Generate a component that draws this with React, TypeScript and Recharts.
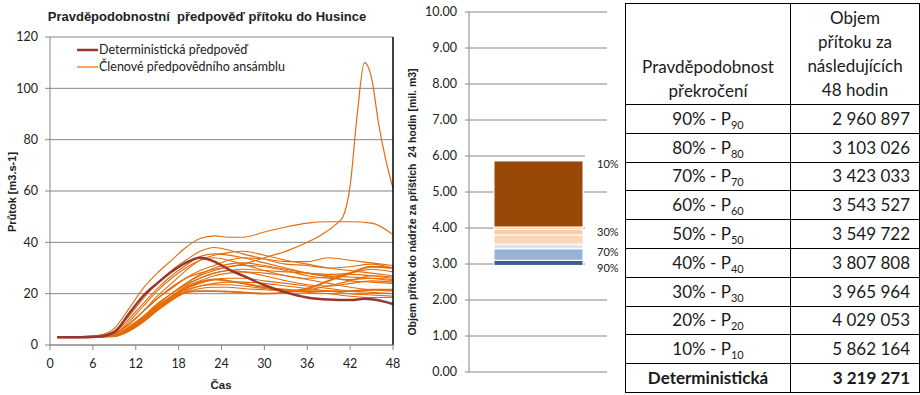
import {
  Bar,
  BarChart,
  CartesianGrid,
  LabelList,
  Legend,
  Line,
  LineChart,
  ReferenceLine,
  XAxis,
  YAxis,
} from 'recharts'

const GRID = '#868686'
const TEXT = '#222'
const ENSEMBLE_COLOR = '#E46C0A'
const DET_COLOR = '#953735'

// --- line chart data -------------------------------------------------------

const HOURS = [1, 4, 7, 9, 11, 13, 15, 17, 19, 21, 23, 25, 27, 30, 33, 36, 39, 42, 45, 48]

const ENSEMBLE: number[][] = [
  [3, 3.2, 3.9, 6.5, 14, 22, 28, 33, 38, 41.5, 42.5, 42, 42, 44, 46, 47.5, 48, 48, 47.5, 43],
  [3, 3.2, 3.8, 5.5, 11, 18, 24, 29, 33, 36.5, 38, 37, 35.5, 33.5, 31.5, 31, 30, 30.5, 31.5, 30],
  [3, 3.1, 3.6, 5, 10, 16, 22, 27, 31, 34.5, 35.5, 35, 34, 32, 30, 28, 26.5, 25, 24.5, 24],
  [3, 3.1, 3.5, 4.5, 8, 13, 19, 24, 29, 33, 35, 36, 36.5, 35, 33, 31.5, 30, 29, 28, 27],
  [3, 3.1, 3.5, 4.5, 8, 13, 18, 22, 26, 29, 31, 33, 34, 33.5, 32.5, 32.5, 34, 33, 32, 31],
  [3, 3.1, 3.4, 4, 7, 11, 16, 20, 24, 27, 29, 30.5, 31, 30.5, 29, 27, 26, 25.5, 26, 25.5],
  [3, 3.1, 3.4, 4, 7, 11, 16, 20, 23.5, 26, 28, 29, 29.5, 29, 28.5, 28, 27.5, 28, 29.5, 28.5],
  [3, 3.1, 3.3, 3.8, 6.5, 10.5, 15, 19, 22.5, 25, 27, 28, 28.5, 28, 27, 25.5, 24, 22.5, 21.5, 21],
  [3, 3.1, 3.3, 3.8, 6, 10, 14, 18.5, 22, 24, 25.5, 26, 26, 25, 24, 23, 22, 21, 20.5, 20],
  [3, 3.1, 3.3, 3.6, 6, 9.5, 14, 18, 21, 23, 24, 24.5, 24.5, 24, 23, 22, 21, 20, 19.5, 19],
  [3, 3, 3.2, 3.5, 5.5, 9, 13.5, 17.5, 20.5, 22, 22.5, 22.5, 22, 21.5, 21, 20.5, 20, 19, 18.5, 18.5],
  [3, 3, 3.2, 3.5, 5.5, 9, 13.5, 17.5, 20.5, 21, 21, 20.8, 20.5, 20, 20.5, 22, 25, 28, 30.5, 30],
  [3, 3, 3.2, 3.5, 6, 10, 15, 19, 23, 26, 28, 29, 28.5, 27, 25, 23.5, 23, 24, 25, 24.5],
  [3, 3, 3.2, 3.5, 5.5, 9.5, 14.5, 18.5, 22, 24.5, 25.5, 25, 24, 22.5, 21.5, 21, 21, 21, 21.5, 21.5],
  [3, 3.1, 3.5, 4.5, 9, 15, 21, 26, 30, 33, 34, 33, 31.5, 29, 27, 26, 26.5, 27.5, 27, 26],
  [3, 3, 3.2, 3.6, 6.5, 10.5, 15.5, 20, 24, 27.5, 30, 31.5, 32, 31, 29.5, 28, 27, 26.5, 26, 25],
  [3, 3, 3.3, 3.7, 6, 10, 14.5, 18.5, 21.5, 23, 23.5, 23.5, 23, 22, 21, 21.5, 23, 25, 27, 26.5],
]
const THICK_MEMBERS = [11, 13]

const PEAK_HOURS = [1, 4, 7, 9, 11, 13, 15, 17, 19, 21, 23, 25, 27, 30, 33, 36, 38, 40, 41, 42, 43, 44, 45, 46, 47, 48]
const PEAK_VALUES = [3, 3.1, 3.5, 4.5, 8, 13, 18, 22.5, 26, 28, 29.5, 30.5, 31.5, 34, 36.5, 40, 43, 47, 50, 62, 90, 110, 104, 86, 72, 61]

const DET_HOURS = [1, 4, 7, 9, 11, 13, 15, 17, 19, 21, 23, 25, 27, 30, 33, 36, 39, 42, 44, 45, 48]
const DET_VALUES = [3, 3, 3.3, 5, 12, 19, 24, 28.5, 32, 34, 32.5, 29.5, 27, 23.3, 20.5, 18.5, 17.7, 17.5, 18, 17.8, 16]

const X_TICKS = [0, 6, 12, 18, 24, 30, 36, 42, 48]
const Y_TICKS = [0, 20, 40, 60, 80, 100, 120]

const LEGEND_NAMES = ['Deterministická předpověď', 'Členové předpovědního ansámblu']

// --- bar / table data ------------------------------------------------------

const EXCEEDANCE = [90, 80, 70, 60, 50, 40, 30, 20, 10]
const VOLUMES = [2960897, 3103026, 3423033, 3543527, 3549722, 3807808, 3965964, 4029053, 5862164]
const DET_VOLUME = 3219271
const SEGMENT_COLORS = ['#376092', '#95B3D7', '#DBE5F1', '#EEF2F8', '#FCD5B4', '#FBCDA5', '#FAC08F', '#984807']
const LABELED = [90, 70, 30, 10]
const BAR_TICKS = [0, 1, 2, 3, 4, 5, 6, 7, 8, 9, 10]

const toSeries = (hours: number[], values: number[]) => hours.map((t, i) => ({ t, v: values[i] }))

const fmt = (n: number) => String(n).replace(/\B(?=(\d{3})+(?!\d))/g, ' ')

const barRow: Record<string, number | string> = { name: '', base: VOLUMES[0] / 1e6 }
for (let i = 1; i < VOLUMES.length; i++) {
  barRow[`s${i}`] = (VOLUMES[i] - VOLUMES[i - 1]) / 1e6
}

function ForecastLegend() {
  return (
    <div style={{ fontFamily: 'Lato', fontSize: 12.5, color: TEXT, lineHeight: '17px' }}>
      {LEGEND_NAMES.map((name, i) => (
        <div key={name} style={{ display: 'flex', alignItems: 'center' }}>
          <svg width={24} height={10}>
            <line x1={2} x2={23} y1={5} y2={5} stroke={i === 0 ? DET_COLOR : ENSEMBLE_COLOR} strokeWidth={i === 0 ? 2.5 : 1.2} />
          </svg>
          <span>{name}</span>
        </div>
      ))}
    </div>
  )
}

function FlowChart() {
  return (
    <div style={{ position: 'absolute', left: 0, top: 0 }}>
      <div
        style={{
          position: 'absolute',
          left: 0,
          width: 414,
          top: 9,
          textAlign: 'center',
          whiteSpace: 'pre',
          fontFamily: 'Liberation Sans',
          fontWeight: 'bold',
          fontSize: 13,
          color: TEXT,
          zIndex: 2,
        }}
      >
        {'Pravděpodobnostní  předpověď přítoku do Husince'}
      </div>
      <LineChart width={400} height={395} margin={{ top: 37, right: 7, bottom: 20, left: 0 }}>
        <CartesianGrid vertical={false} stroke={GRID} />
        <XAxis
          dataKey="t"
          type="number"
          domain={[0, 48]}
          ticks={X_TICKS}
          allowDuplicatedCategory={false}
          height={30}
          stroke={GRID}
          tickSize={5}
          tickMargin={9}
          tick={{ fill: TEXT, fontSize: 12.5, fontFamily: 'Lato' }}
          label={{
            content: () => (
              <text x={221} y={389} textAnchor="middle" fontFamily="Liberation Sans" fontWeight="bold" fontSize={11.5} fill={TEXT}>
                Čas
              </text>
            ),
          }}
        />
        <YAxis
          domain={[0, 120]}
          ticks={Y_TICKS}
          width={50}
          stroke={GRID}
          tickSize={5}
          tickMargin={7}
          tick={{ fill: TEXT, fontSize: 12.5, fontFamily: 'Lato' }}
          label={{
            content: () => (
              <text
                x={16}
                y={192}
                transform="rotate(-90 16 192)"
                textAnchor="middle"
                fontFamily="Liberation Sans"
                fontWeight="bold"
                fontSize={11}
                fill={TEXT}
              >
                Průtok [m3.s-1]
              </text>
            ),
          }}
        />
        <Legend
          layout="vertical"
          align="center"
          verticalAlign="middle"
          content={() => <ForecastLegend />}
          wrapperStyle={{ position: 'absolute', left: 75, top: 41, width: 260, height: 36 }}
        />
        {ENSEMBLE.map((vals, i) => (
          <Line
            key={`m${i}`}
            data={toSeries(HOURS, vals)}
            dataKey="v"
            type="monotone"
            stroke={ENSEMBLE_COLOR}
            strokeWidth={THICK_MEMBERS.includes(i) ? 1.9 : 1.1}
            dot={false}
            activeDot={false}
            isAnimationActive={false}
          />
        ))}
        <Line
          data={toSeries(PEAK_HOURS, PEAK_VALUES)}
          dataKey="v"
          type="monotone"
          stroke={ENSEMBLE_COLOR}
          strokeWidth={1.2}
          dot={false}
          activeDot={false}
          isAnimationActive={false}
        />
        <Line
          data={toSeries(DET_HOURS, DET_VALUES)}
          dataKey="v"
          type="monotone"
          stroke={DET_COLOR}
          strokeWidth={2.5}
          dot={false}
          activeDot={false}
          isAnimationActive={false}
        />
        <ReferenceLine x={48} stroke="#000" strokeWidth={1.5} />
      </LineChart>
    </div>
  )
}

function PercentLabel(props: any, text: string) {
  const { x, y, width } = props
  const left = x + width + 2
  return (
    <g>
      <rect x={left} y={y - 10} width={36} height={22} fill="#fff" />
      <text x={left + 12} y={y + 3} dy="0.35em" fontFamily="Lato" fontSize={11} fill={TEXT}>
        {text}
      </text>
    </g>
  )
}

function VolumeBar() {
  const segKeys = VOLUMES.slice(1).map((_, i) => `s${i + 1}`)
  // which stacked key's top sits at each labelled exceedance level
  const labelFor = (key: string) => {
    const idx = key === 'base' ? 0 : Number(key.slice(1))
    const p = EXCEEDANCE[idx]
    return LABELED.includes(p) ? `${p}%` : null
  }
  return (
    <div style={{ position: 'absolute', left: 400, top: 0 }}>
      <BarChart width={220} height={395} data={[barRow]} margin={{ top: 12, right: 13, bottom: 13, left: 0 }}>
        <CartesianGrid vertical={false} stroke={GRID} />
        <XAxis dataKey="name" hide />
        <XAxis
          xAxisId="edge"
          type="number"
          domain={[0, 1]}
          ticks={[0, 1]}
          allowDataOverflow
          height={10}
          stroke={GRID}
          tickSize={5}
          tickFormatter={() => ''}
        />
        <YAxis
          domain={[0, 10]}
          ticks={BAR_TICKS}
          width={69}
          stroke={GRID}
          tickSize={4}
          tickMargin={8}
          tickFormatter={(v: number) => v.toFixed(2)}
          tick={{ fill: TEXT, fontSize: 12.5, fontFamily: 'Lato' }}
          label={{
            content: () => (
              <text
                x={16}
                y={202}
                transform="rotate(-90 16 202)"
                textAnchor="middle"
                fontFamily="Liberation Sans"
                fontWeight="bold"
                fontSize={10.5}
                fill={TEXT}
                style={{ whiteSpace: 'pre' }}
              >
                {'Objem přítok do nádrže za příštích  24 hodin [mil. m3]'}
              </text>
            ),
          }}
        />
        {['base', ...segKeys].map((key, i) => {
          const text = labelFor(key)
          return (
            <Bar
              key={key}
              dataKey={key}
              stackId="v"
              barSize={89}
              fill={i === 0 ? 'transparent' : SEGMENT_COLORS[i - 1]}
              stroke={i === 0 ? 'none' : '#fff'}
              strokeWidth={1}
              isAnimationActive={false}
            >
              {text && <LabelList dataKey={key} content={(p: any) => PercentLabel(p, text)} />}
            </Bar>
          )
        })}
      </BarChart>
    </div>
  )
}

const cell: React.CSSProperties = {
  border: '1px solid #000',
  padding: 0,
  lineHeight: '18px',
  overflow: 'hidden',
}

const ROW_H = 28.8

function VolumeTable() {
  const rows = EXCEEDANCE.map((p, i) => ({ p, v: VOLUMES[i] }))
  return (
    <table
      style={{
        position: 'absolute',
        left: 625,
        top: 3,
        width: 294,
        borderCollapse: 'collapse',
        tableLayout: 'fixed',
        fontFamily: 'Lato',
        fontSize: 17,
        color: '#1a1a1a',
      }}
    >
      <colgroup>
        <col style={{ width: 165 }} />
        <col style={{ width: 129 }} />
      </colgroup>
      <tbody>
        <tr style={{ height: 101 }}>
          <td style={{ ...cell, lineHeight: '24px', textAlign: 'center', verticalAlign: 'bottom', paddingBottom: 1 }}>
            Pravděpodobnost
            <br />
            překročení
          </td>
          <td style={{ ...cell, lineHeight: '24px', textAlign: 'center', verticalAlign: 'middle' }}>
            Objem
            <br />
            přítoku za
            <br />
            následujících
            <br />
            48 hodin
          </td>
        </tr>
        {rows.map((r) => (
          <tr key={r.p} style={{ height: ROW_H }}>
            <td style={{ ...cell, textAlign: 'center' }}>
              {r.p}% - P<sub style={{ fontSize: 11, lineHeight: 0, verticalAlign: '-4px' }}>{r.p}</sub>
            </td>
            <td style={{ ...cell, textAlign: 'right', paddingRight: 9 }}>{fmt(r.v)}</td>
          </tr>
        ))}
        <tr style={{ height: ROW_H }}>
          <td style={{ ...cell, textAlign: 'center', fontWeight: 'bold' }}>Deterministická</td>
          <td style={{ ...cell, textAlign: 'right', paddingRight: 9, fontWeight: 'bold' }}>{fmt(DET_VOLUME)}</td>
        </tr>
      </tbody>
    </table>
  )
}

export default function App() {
  return (
    <div
      style={{
        position: 'absolute',
        left: 0,
        top: 0,
        width: 920,
        height: 395,
        background: '#fff',
        overflow: 'hidden',
        fontFamily: 'Lato',
      }}
    >
      <FlowChart />
      <VolumeBar />
      <VolumeTable />
    </div>
  )
}
